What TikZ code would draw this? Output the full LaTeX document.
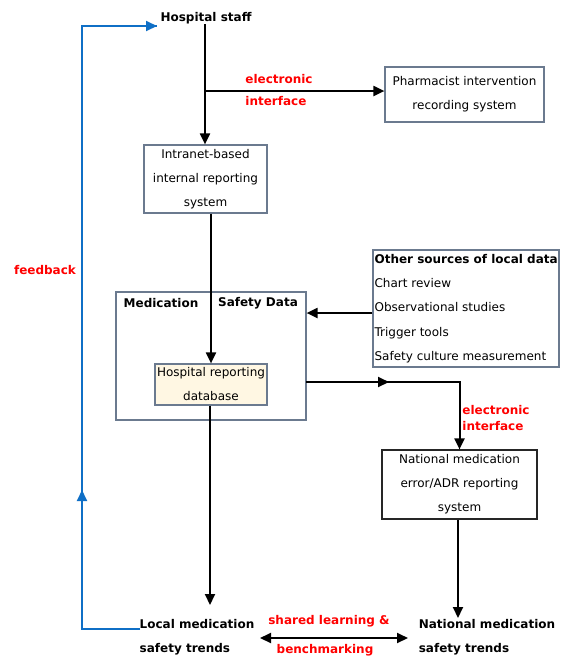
\documentclass[tikz,border=0pt]{standalone}
\usepackage{fontspec}
\setmainfont{DejaVu Sans}
\usetikzlibrary{arrows.meta}

\definecolor{boxline}{HTML}{6B7A8F}
\definecolor{dbfill}{HTML}{FFF7E3}
\definecolor{fbblue}{HTML}{0F6FC6}

\tikzset{
  sysbox/.style={draw=boxline, line width=1.2pt, align=center, inner sep=0pt,
    font=\fontsize{12}{24}\selectfont},
  headtext/.style={font=\bfseries\fontsize{12}{24}\selectfont, align=left, inner sep=0pt},
  redtext/.style={text=red, font=\bfseries\fontsize{12}{16}\selectfont, align=left, inner sep=0pt},
  flow/.style={line width=2pt, -{Triangle[length=11pt,width=10pt]}},
  fbline/.style={fbblue, line width=2pt}
}

\begin{document}
\begin{tikzpicture}[x=1pt,y=-1pt]
  \useasboundingbox (0,0) rectangle (569,657);

  % Hospital staff and the two systems it feeds
  \node[headtext] (staff) at (206,18) {Hospital staff};
  \node[sysbox, minimum width=123pt, minimum height=68pt] (intranet) at (205.5,179)
    {Intranet-based\\internal reporting\\system};
  \node[sysbox, minimum width=159pt, minimum height=55pt] (pharm) at (464.5,94.5)
    {Pharmacist intervention\\recording system};
  \coordinate (split) at (205,91);
  \node[redtext, font=\bfseries\fontsize{12}{22}\selectfont] (eint1) at (279,90) {electronic\\interface};

  \draw[flow] (staff.south -| split) -- (split |- intranet.north);
  \draw[flow] (split) -- (split -| pharm.west);

  % Medication safety data
  \node[draw=boxline, line width=1.2pt, minimum width=190pt, minimum height=128pt] (medbox) at (211,356) {};
  \node[headtext] (medlabel) at (161,303) {Medication};
  \node[headtext] (safelabel) at (258,303) {Safety Data};
  \node[sysbox, fill=dbfill, minimum width=112pt, minimum height=41pt] (db) at (211,384.5)
    {Hospital reporting\\database};
  \draw[flow] (intranet.south -| db.north) -- (db.north);

  % Other sources
  \node[draw=boxline, line width=1.2pt, minimum width=186pt, minimum height=117pt] (other) at (466,308.5) {};
  \node[align=left, anchor=west, inner sep=0pt, font=\fontsize{12}{24.25}\selectfont] (othertext) at ([xshift=2pt]other.west)
    {\textbf{Other sources of local data}\\Chart review\\Observational studies\\Trigger tools\\Safety culture measurement};
  \draw[flow] ([yshift=-4.5pt]other.west) -- ([yshift=-4.5pt]other.west -| medbox.east);

  % National system
  \node[sysbox, draw=black!85, minimum width=155pt, minimum height=69pt] (national) at (459.5,484.5)
    {National medication\\error/ADR reporting\\system};
  \coordinate (dbout) at (306,382);
  \draw[flow] (dbout) -| (national.north);
  \draw[flow] (dbout) -- ++(83,0);
  \node[redtext] (eint2) at (496,418) {electronic\\interface};

  % Trends
  \node[headtext] (local) at (197,637) {Local medication\\safety trends};
  \node[headtext] (nattrend) at (487,637) {National medication\\safety trends};
  \draw[flow] (db.south -| 210,0) -- (210,605);
  \draw[flow] (national.south -| 458,0) -- (458,618);
  \draw[line width=2pt, {Triangle[length=11pt,width=10pt]}-{Triangle[length=11pt,width=10pt]}]
    (260,638) -- (408,638);
  \node[redtext] (shared) at (329,621) {shared learning \&};
  \node[redtext] (bench) at (325,650) {benchmarking};

  % Feedback loop
  \coordinate (fbstart) at (140,629);
  \coordinate (fbend) at (157,26);
  \draw[fbline] (fbstart) -- (82,629) -- (82,26) -- (fbend);
  \draw[fbline, -{Triangle[length=11pt,width=10pt]}] (82,26) -- (fbend);
  \draw[fbline, -{Triangle[length=11pt,width=10pt]}] (82,629) -- (82,490);
  \node[redtext] (feedback) at (45,270) {feedback};
\end{tikzpicture}
\end{document}
